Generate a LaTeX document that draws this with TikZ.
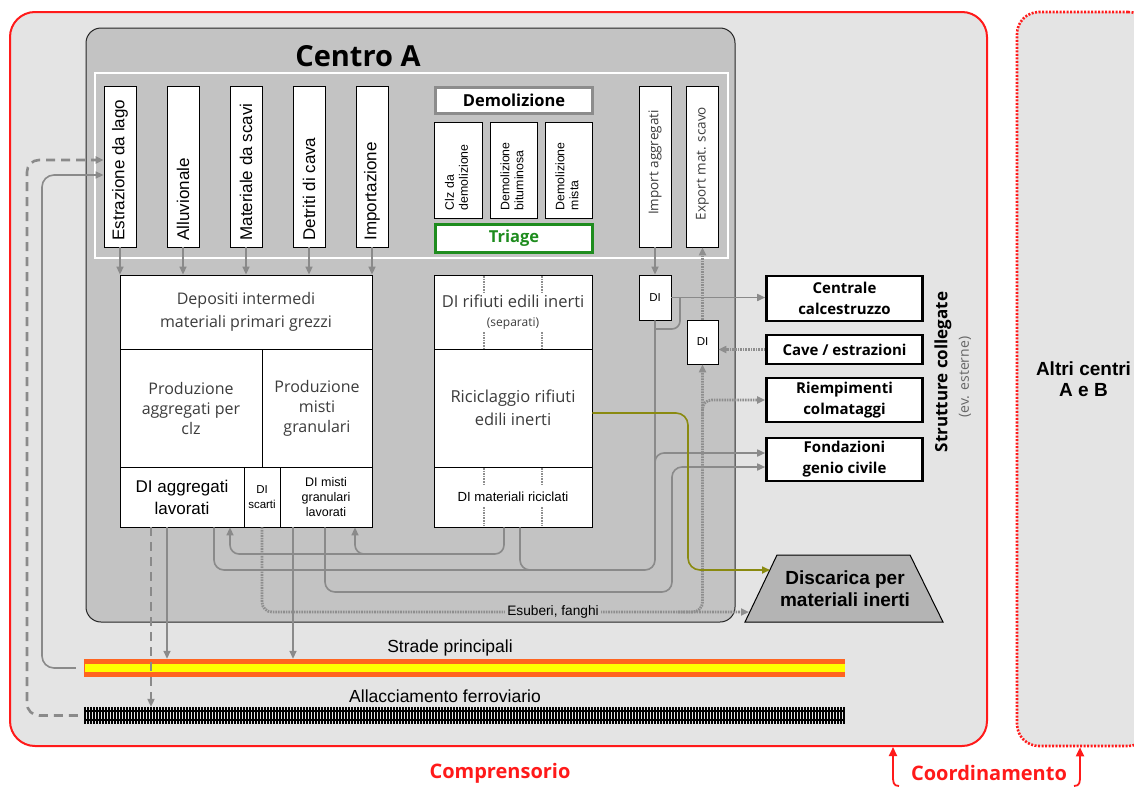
\documentclass[tikz,border=0pt]{standalone}
\usepackage{fontspec}
\usepackage{graphicx}
\setmainfont{Liberation Sans}
\newfontfamily\fru{Open Sans}
\usetikzlibrary{arrows.meta,calc}
\definecolor{bglight}{HTML}{E4E4E4}
\definecolor{centroc}{HTML}{C3C3C3}
\definecolor{connc}{HTML}{8A8A8A}
\definecolor{dotcc}{HTML}{8E8E8E}
\definecolor{olivec}{HTML}{8A8A10}
\definecolor{redc}{HTML}{FF1A1A}
\definecolor{greenc}{HTML}{1E8C1E}
\definecolor{txtg}{HTML}{3C3C3C}
\definecolor{roadO}{HTML}{FF6420}
\definecolor{roadY}{HTML}{FFFF00}
\definecolor{discg}{HTML}{B4B4B4}
\newcommand{\fsz}[2]{\fontsize{#1}{#2}\selectfont}
\newcommand{\vlab}[2]{\rotatebox{90}{\makebox[#1][l]{#2}}}
\begin{document}
\begin{tikzpicture}[x=1pt,y=-1pt,
  >={Triangle[length=8pt,width=7pt]},
  conn/.style={draw=connc, line width=1.6pt},
  dotc/.style={draw=dotcc, line width=2.8pt, dash pattern=on 1.6pt off 1pt},
  dashc/.style={draw=connc, line width=2.6pt, dash pattern=on 9pt off 6pt},
  oliv/.style={draw=olivec, line width=1.6pt},
  box/.style={draw=black, line width=0.8pt, fill=white, inner sep=0pt, align=center, text=black},
  srcbox/.style={box, minimum width=32, minimum height=161, font=\fsz{17}{19}},
  iebox/.style={box, minimum width=32, minimum height=161, font=\fru\fsz{13.5}{16}, text=txtg},
  smallbox/.style={box, minimum width=47, minimum height=96, font=\fsz{12.3}{14}},
  midbox/.style={box, font=\fru\fsz{16}{21}, text=txtg},
  dibox/.style={box, minimum width=32, minimum height=45, font=\fsz{11.5}{12}},
  xbox/.style={box, line width=2.6pt, minimum width=156, font=\fru\bfseries\fsz{15}{21}},
  redlab/.style={text=redc, font=\fru\bfseries\fsz{20}{22}},
  redarr/.style={draw=redc, line width=1.8pt, -{Triangle[length=9pt,width=8pt]}}
]
\useasboundingbox (0,0) rectangle (1134,787);

% frames
\node[draw=redc, line width=2pt, fill=bglight, rounded corners=25, minimum width=977, minimum height=734, inner sep=0] (compr) at (498.5,379) {};
\node[draw=redc, line width=2.6pt, dash pattern=on 2pt off 1.5pt, fill=bglight, rounded corners=22, minimum width=133, minimum height=734, inner sep=0, align=center, font=\bfseries\fsz{19}{21}] (altri) at (1083.5,379) {Altri centri\\A e B};
\node[draw=black!85, line width=1pt, fill=centroc, rounded corners=15, minimum width=649, minimum height=594, inner sep=0] (centro) at (410.5,325) {};
\node[font=\fru\bfseries\fsz{29}{32}] (centrolab) at (358,56) {Centro A};
\node[draw=white, line width=1.8pt, minimum width=633, minimum height=185, inner sep=0] (srcframe) at (411.5,165.5) {};

% source boxes
\node[srcbox] (estr) at (120,166.5) {\vlab{148pt}{Estrazione da lago}};
\node[srcbox] (allu) at (183,166.5) {\vlab{148pt}{Alluvionale}};
\node[srcbox] (mats) at (246,166.5) {\vlab{148pt}{Materiale da scavi}};
\node[srcbox] (detr) at (309,166.5) {\vlab{148pt}{Detriti di cava}};
\node[srcbox] (impo) at (372,166.5) {\vlab{148pt}{Importazione}};
\node[iebox] (iagg) at (655,166.5) {\rotatebox{90}{\makebox[136pt][c]{\hspace{8pt}Import aggregati}}};
\node[iebox] (expo) at (702.5,166.5) {\rotatebox{90}{\makebox[136pt][c]{\hspace{6pt}Export mat. scavo}}};

% demolition
\node[box, draw=black!45, line width=3pt, minimum width=157, minimum height=26, font=\fru\bfseries\fsz{16.5}{18}] (demo) at (514,100.5) {Demolizione};
\node[smallbox, minimum width=48] (clz) at (458,170) {\vlab{80pt}{\begin{tabular}{@{}l@{}}Clz da\\demolizione\end{tabular}}};
\node[smallbox] (bitu) at (513.5,170) {\vlab{80pt}{\begin{tabular}{@{}l@{}}Demolizione\\bituminosa\end{tabular}}};
\node[smallbox] (mist) at (568.5,170) {\vlab{80pt}{\begin{tabular}{@{}l@{}}Demolizione\\mista\end{tabular}}};
\node[box, draw=greenc, line width=3pt, minimum width=157, minimum height=28, font=\fru\bfseries\fsz{16.5}{18}, text=greenc] (triage) at (514,238.5) {Triage};

% left block
\node[midbox, minimum width=252, minimum height=74, font=\fru\fsz{16}{23}] (dep) at (246,312) {Depositi intermedi\\materiali primari grezzi};
\node[midbox, minimum width=142, minimum height=118, font=\fru\fsz{16}{20}] (pagg) at (191,408) {Produzione\\aggregati per\\clz};
\node[midbox, minimum width=110, minimum height=118, font=\fru\fsz{16}{20}] (pmis) at (317,408) {Produzione\\misti\\granulari};
\node[box, minimum width=124, minimum height=60, font=\fsz{17}{22}] (dial) at (182,497) {DI aggregati\\lavorati};
\node[box, minimum width=36, minimum height=60, font=\fsz{11.5}{15}] (dsca) at (262,497) {DI\\scarti};
\node[box, minimum width=92, minimum height=60, font=\fsz{12.5}{15}] (dmis) at (326,497) {DI misti\\granulari\\lavorati};

% right block
\node[midbox, minimum width=158, minimum height=74, font=\fru\fsz{16.5}{19}] (drif) at (513,312) {DI rifiuti edili inerti\\{\fsz{12}{13}(separati)}};
\node[midbox, minimum width=158, minimum height=118, font=\fru\fsz{16.5}{23}] (rici) at (513,408) {Riciclaggio rifiuti\\edili inerti};
\node[box, minimum width=158, minimum height=60, font=\fsz{13.2}{15}] (dmri) at (513,497) {DI materiali riciclati};
\foreach \xx in {484,542}{
  \draw[dotc] (\xx,276) -- (\xx,292);
  \draw[dotc] (\xx,332) -- (\xx,348);
  \draw[dotc] (\xx,468) -- (\xx,486);
  \draw[dotc] (\xx,507) -- (\xx,526);
}

% DI boxes
\node[dibox] (dia) at (655,297.5) {DI};
\node[dibox, minimum width=31, minimum height=44] (dib) at (702.5,342) {DI};

% external structures
\node[xbox, minimum height=45] (cent) at (844.5,298.5) {Centrale\\calcestruzzo};
\node[xbox, minimum height=29] (cave) at (844.5,349.5) {Cave / estrazioni};
\node[xbox, minimum height=44] (riem) at (844.5,400) {Riempimenti\\colmataggi};
\node[xbox, minimum height=43] (fond) at (844.5,459.5) {Fondazioni\\genio civile};
\node[rotate=90, font=\fru\bfseries\fsz{17}{19}] (strut) at (943,372) {Strutture collegate};
\node[rotate=90, font=\fru\fsz{14}{16}, text=black!60] (ester) at (965,377) {(ev. esterne)};

% landfill
\coordinate (dBL) at (745,622);
\coordinate (dTL) at (777,555);
\coordinate (dTR) at (910,555);
\coordinate (dBR) at (943,622);
\draw[fill=discg, draw=black, line width=1pt] (dBL) -- (dTL) -- (dTR) -- (dBR) -- cycle;
\node[font=\bfseries\fsz{19}{22}, align=center] (disc) at (845,589) {Discarica per\\materiali inerti};
\coordinate (dIn1) at (770,570);
\coordinate (dIn2) at (749,612);

% lane coordinates
\coordinate (b554) at (0,554);
\coordinate (b570) at (0,570);
\coordinate (b592) at (0,592);
\coordinate (b612) at (0,612);
\coordinate (x151) at (151,0);
\coordinate (x167) at (167,0);
\coordinate (x214) at (214,0);
\coordinate (x230) at (230,0);
\coordinate (x293) at (293,0);
\coordinate (x325) at (325,0);
\coordinate (x355) at (355,0);
\coordinate (x504) at (504,0);
\coordinate (x520) at (520,0);
\coordinate (x672) at (672,0);
\coordinate (x680) at (680,0);
\coordinate (x688) at (688,0);

% sources -> depositi
\foreach \n in {estr,allu,mats,detr,impo}{
  \draw[conn,->] (\n.south) -- (\n.south |- dep.north);
}
\draw[conn,->] (iagg.south) -- (dia.north);
\draw[dotc,->] (dib.north) -- (expo.south);
\draw[conn,->] (dia.east) -- (dia.east -| cent.west);
\draw[conn, rounded corners=8] (x680 |- dia.east) |- (dia.south |- 0,329);
\draw[dotc,->] (cave.west) -- (cave.west -| dib.east);

% trunk from DI (import) down and back to DI aggregati lavorati
\draw[conn, rounded corners=10] (dia.south) -- (dia.south |- b570) -| (x214 |- dial.south);
\draw[conn, rounded corners=10] (x520 |- dmri.south) |- (558,570);
\draw[conn,->, rounded corners=9] (dia.south |- 0,472) |- (fond.west |- 0,453);
% DI misti -> Fondazioni
\draw[conn,->, rounded corners=10] (x325 |- dmis.south) |- (x672 |- b592) -- (x672 |- 0,467) -- (fond.west |- 0,467);
% recycled -> DI aggregati / DI misti
\draw[conn,->, rounded corners=9] (x504 |- dmri.south) |- (x230 |- b554) -- (x230 |- dial.south);
\draw[conn,->, rounded corners=9] (375,554) -| (x355 |- dmis.south);

% esuberi
\draw[dotc,->, rounded corners=10] (dsca.south) |- (dIn2);
\draw[dotc,->, rounded corners=10] (678,612) -| (dib.south);
\draw[dotc,->, rounded corners=9] (dib.south |- 0,416) |- (riem.west);
\node[fill=centroc, inner sep=2pt, font=\fsz{13.7}{15}] (esub) at (553,612) {Esuberi, fanghi};

% olive: recycling -> landfill
\draw[oliv,->, rounded corners=12] ($(rici.east)+(0,5)$) -| (x688 |- b570) -- (dIn1);

% road and rail
\node[fill=roadO, minimum width=761, minimum height=18, inner sep=0] (road) at (464.5,668) {};
\fill[roadY] (84.5,664) rectangle (845,672);
\node[minimum width=761, minimum height=17, inner sep=0] (rail) at (464.5,715.5) {};
\foreach \xx in {85,88,...,845}{ \draw[line width=1.1pt] (\xx,707) -- (\xx,724); }
\draw[line width=2pt] (84,711) -- (845,711);
\draw[line width=2pt] (84,720) -- (845,720);
\node[font=\fsz{17.5}{19}] (strade) at (450,648) {Strade principali};
\node[font=\fsz{17.5}{19}] (ferro) at (445,696) {Allacciamento ferroviario};

% down to road/rail
\draw[conn,->] (x167 |- dial.south) -- (x167 |- road.north);
\draw[conn,->] (x293 |- dmis.south) -- (x293 |- road.north);
\draw[dashc,->] (x151 |- dial.south) -- (x151 |- rail.north);

% left side feeds
\draw[conn,->, rounded corners=12] ($(road.west)+(-8,0)$) -| (42,175) -- (estr.west |- 0,175);
\draw[dashc,->, rounded corners=12] ($(rail.west)+(-6,0)$) -| (27,160) -- (estr.west |- 0,160);

% bottom labels
\node[redlab] (comprlab) at (500,773) {Comprensorio};
\node[redlab] (coord) at (989,773) {Coordinamento};
\draw[redarr] (899,786) .. controls (893,786) and (893,782) .. (893,775) -- (compr.south -| 893,0);
\draw[redarr] (1074,786) .. controls (1080,786) and (1080,782) .. (1080,775) -- (altri.south -| 1080,0);
\end{tikzpicture}
\end{document}
